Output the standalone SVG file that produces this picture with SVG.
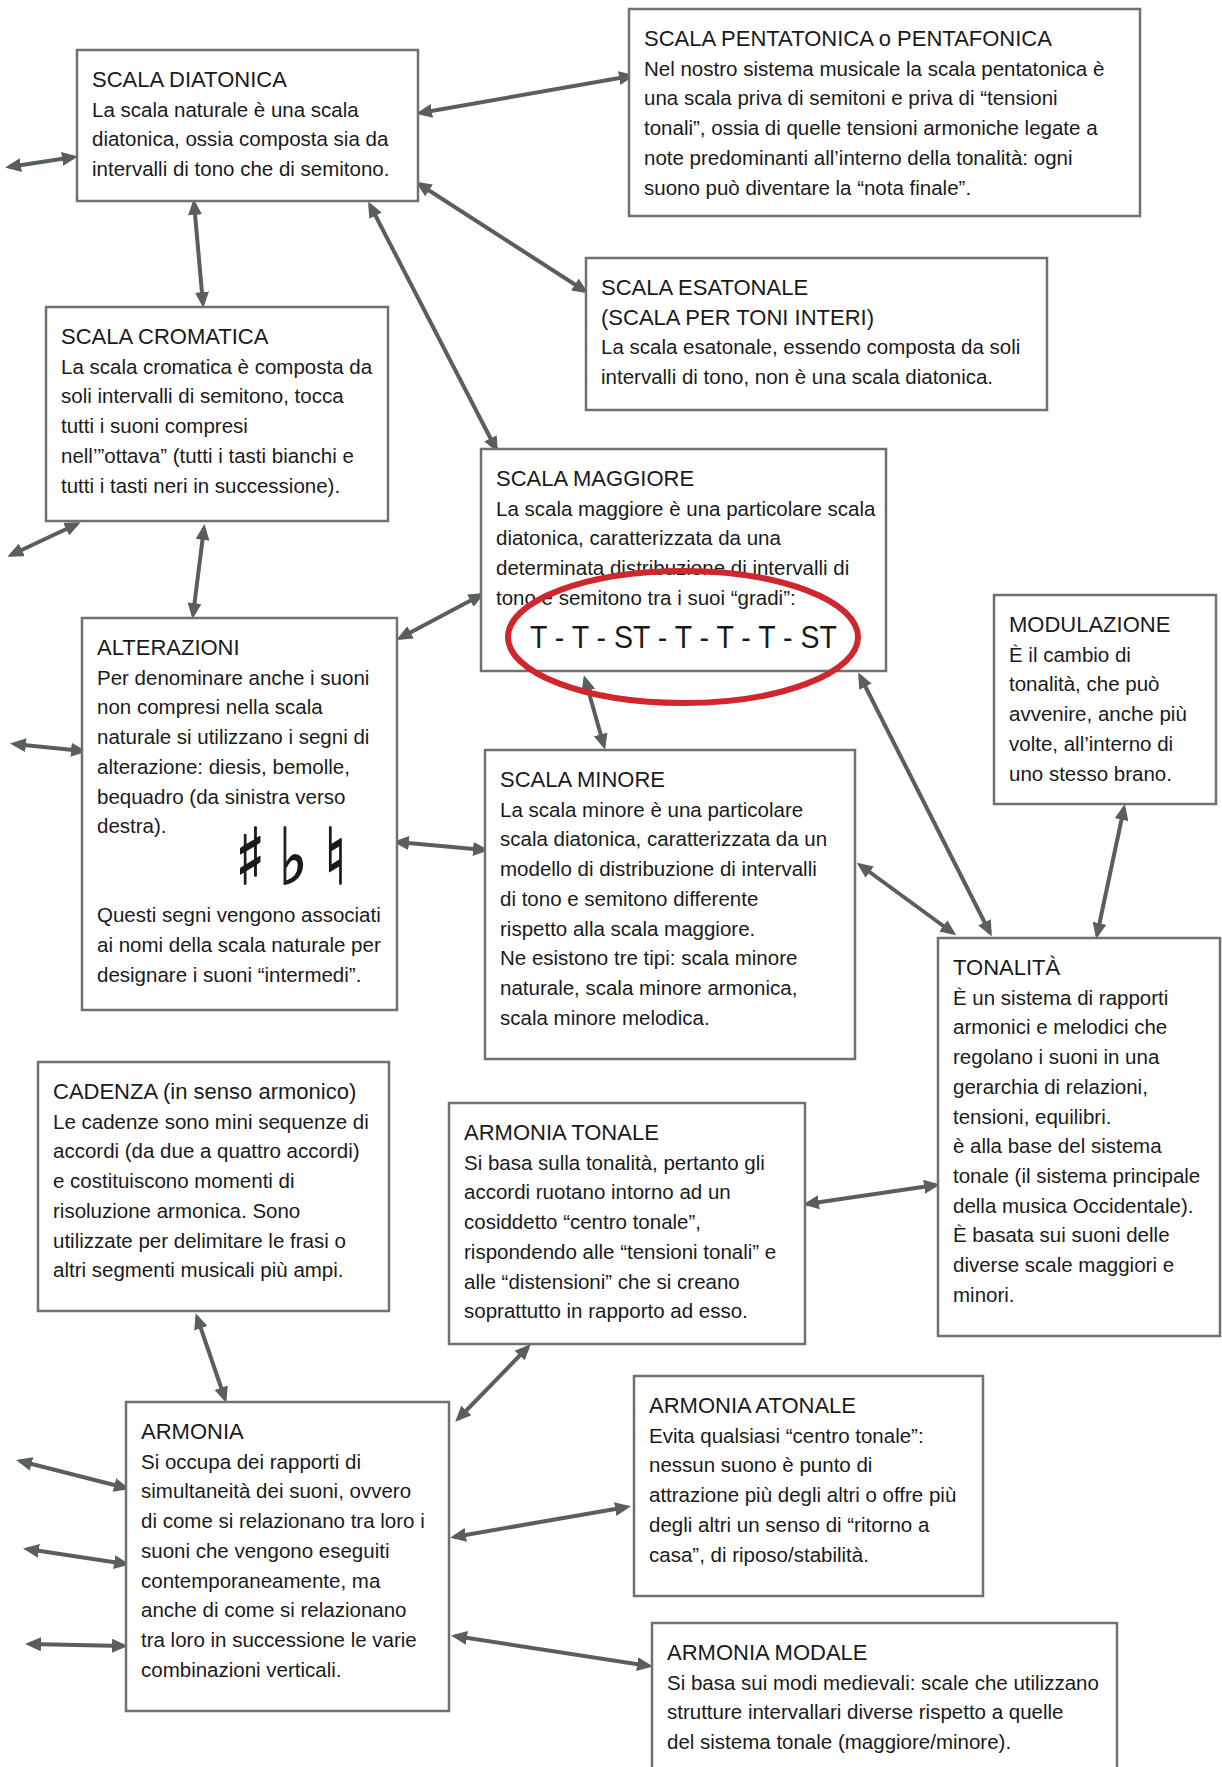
<svg xmlns="http://www.w3.org/2000/svg" width="1222" height="1767" viewBox="0 0 1222 1767">
<style>
.box{fill:#fff;stroke:#6f7070;stroke-width:2.5}
.t{font-family:"Liberation Sans",Arial,sans-serif;fill:#1a1a1a}
.h{font-size:22px}
.b{font-size:20.5px}
.c{stroke:#595e60;stroke-width:4;fill:none;marker-start:url(#ah);marker-end:url(#ah)}
.sym{font-family:"DejaVu Sans",sans-serif;font-size:78px;font-weight:bold;fill:#1a1a1a;stroke:#1a1a1a;stroke-width:1.5;text-anchor:middle}
</style>
<defs>
<marker id="ah" markerUnits="userSpaceOnUse" markerWidth="16" markerHeight="14" viewBox="0 0 16 14" refX="12" refY="7" orient="auto-start-reverse">
<path d="M0,0 L16,7 L0,14 z" fill="#595e60"/>
</marker>
</defs>
<rect width="1222" height="1767" fill="#fff"/>

<g id="connectors">
<path class="c" d="M9,167 L74,157"/>
<path class="c" d="M420,113 L631,76"/>
<path class="c" d="M419,184 L585,291"/>
<path class="c" d="M194,203 L203,304"/>
<path class="c" d="M370,205 L496,449"/>
<path class="c" d="M11,555 L77,524"/>
<path class="c" d="M204,528 L193,615"/>
<path class="c" d="M400,638 L481,595"/>
<path class="c" d="M14,744 L83,751"/>
<path class="c" d="M397,842 L485,850"/>
<path class="c" d="M585,679 L604,746"/>
<path class="c" d="M860,676 L990,933"/>
<path class="c" d="M860,865 L953,933"/>
<path class="c" d="M1124,808 L1097,935"/>
<path class="c" d="M807,1204 L936,1185"/>
<path class="c" d="M197,1317 L225,1399"/>
<path class="c" d="M458,1419 L528,1347"/>
<path class="c" d="M454,1537 L627,1507"/>
<path class="c" d="M455,1636 L649,1666"/>
<path class="c" d="M20,1461 L126,1488"/>
<path class="c" d="M27,1549 L126,1564"/>
<path class="c" d="M29,1644 L124,1646"/>
</g>

<g id="diatonica">
<rect class="box" x="77" y="50" width="341" height="151"/>
<text class="t"><tspan class="h" x="92" y="87">SCALA DIATONICA</tspan><tspan class="b" x="92" y="116.7">La scala naturale è una scala</tspan><tspan class="b" x="92" y="146.4">diatonica, ossia composta sia da</tspan><tspan class="b" x="92" y="176.1">intervalli di tono che di semitono.</tspan></text>
</g>

<g id="pentatonica">
<rect class="box" x="629" y="9" width="511" height="207"/>
<text class="t"><tspan class="h" x="644" y="46">SCALA PENTATONICA o PENTAFONICA</tspan><tspan class="b" x="644" y="75.7">Nel nostro sistema musicale la scala pentatonica è</tspan><tspan class="b" x="644" y="105.4">una scala priva di semitoni e priva di “tensioni</tspan><tspan class="b" x="644" y="135.1">tonali”, ossia di quelle tensioni armoniche legate a</tspan><tspan class="b" x="644" y="164.8">note predominanti all’interno della tonalità: ogni</tspan><tspan class="b" x="644" y="194.5">suono può diventare la “nota finale”.</tspan></text>
</g>

<g id="esatonale">
<rect class="box" x="586" y="258" width="461" height="152"/>
<text class="t"><tspan class="h" x="601" y="295">SCALA ESATONALE</tspan><tspan class="h" x="601" y="324.7">(SCALA PER TONI INTERI)</tspan><tspan class="b" x="601" y="354.4">La scala esatonale, essendo composta da soli</tspan><tspan class="b" x="601" y="384.1">intervalli di tono, non è una scala diatonica.</tspan></text>
</g>

<g id="cromatica">
<rect class="box" x="46" y="307" width="342" height="214"/>
<text class="t"><tspan class="h" x="61" y="344">SCALA CROMATICA</tspan><tspan class="b" x="61" y="373.7">La scala cromatica è composta da</tspan><tspan class="b" x="61" y="403.4">soli intervalli di semitono, tocca</tspan><tspan class="b" x="61" y="433.1">tutti i suoni compresi</tspan><tspan class="b" x="61" y="462.8">nell’”ottava” (tutti i tasti bianchi e</tspan><tspan class="b" x="61" y="492.5">tutti i tasti neri in successione).</tspan></text>
</g>

<g id="maggiore">
<rect class="box" x="481" y="449" width="405" height="222"/>
<text class="t"><tspan class="h" x="496" y="486">SCALA MAGGIORE</tspan><tspan class="b" x="496" y="515.7">La scala maggiore è una particolare scala</tspan><tspan class="b" x="496" y="545.4">diatonica, caratterizzata da una</tspan><tspan class="b" x="496" y="575.1">determinata distribuzione di intervalli di</tspan><tspan class="b" x="496" y="604.8">tono e semitono tra i suoi “gradi”:</tspan></text>
<text class="t" x="530" y="648" font-size="31" textLength="307" lengthAdjust="spacingAndGlyphs">T - T - ST - T - T - T - ST</text>
<ellipse cx="683" cy="637" rx="175" ry="66" fill="none" stroke="#d0262d" stroke-width="6"/>
</g>

<g id="modulazione">
<rect class="box" x="994" y="595" width="222" height="209"/>
<text class="t"><tspan class="h" x="1009" y="632">MODULAZIONE</tspan><tspan class="b" x="1009" y="661.7">È il cambio di</tspan><tspan class="b" x="1009" y="691.4">tonalità, che può</tspan><tspan class="b" x="1009" y="721.1">avvenire, anche più</tspan><tspan class="b" x="1009" y="750.8">volte, all’interno di</tspan><tspan class="b" x="1009" y="780.5">uno stesso brano.</tspan></text>
</g>

<g id="alterazioni">
<rect class="box" x="82" y="618" width="315" height="392"/>
<text class="t"><tspan class="h" x="97" y="655">ALTERAZIONI</tspan><tspan class="b" x="97" y="684.7">Per denominare anche i suoni</tspan><tspan class="b" x="97" y="714.4">non compresi nella scala</tspan><tspan class="b" x="97" y="744.1">naturale si utilizzano i segni di</tspan><tspan class="b" x="97" y="773.8">alterazione: diesis, bemolle,</tspan><tspan class="b" x="97" y="803.5">bequadro (da sinistra verso</tspan><tspan class="b" x="97" y="833.2">destra).</tspan><tspan class="b" x="97" y="922.3">Questi segni vengono associati</tspan><tspan class="b" x="97" y="952">ai nomi della scala naturale per</tspan><tspan class="b" x="97" y="981.7">designare i suoni “intermedi”.</tspan></text>
<text class="sym" transform="translate(250,884) scale(0.78,1)">♯</text>
<text class="sym" transform="translate(293,884) scale(0.78,1)">♭</text>
<text class="sym" transform="translate(335,884) scale(0.78,1)">♮</text>
</g>

<g id="minore">
<rect class="box" x="485" y="750" width="370" height="309"/>
<text class="t"><tspan class="h" x="500" y="787">SCALA MINORE</tspan><tspan class="b" x="500" y="816.7">La scala minore è una particolare</tspan><tspan class="b" x="500" y="846.4">scala diatonica, caratterizzata da un</tspan><tspan class="b" x="500" y="876.1">modello di distribuzione di intervalli</tspan><tspan class="b" x="500" y="905.8">di tono e semitono differente</tspan><tspan class="b" x="500" y="935.5">rispetto alla scala maggiore.</tspan><tspan class="b" x="500" y="965.2">Ne esistono tre tipi: scala minore</tspan><tspan class="b" x="500" y="994.9">naturale, scala minore armonica,</tspan><tspan class="b" x="500" y="1024.6">scala minore melodica.</tspan></text>
</g>

<g id="tonalita">
<rect class="box" x="938" y="938" width="282" height="398"/>
<text class="t"><tspan class="h" x="953" y="975">TONALITÀ</tspan><tspan class="b" x="953" y="1004.7">È un sistema di rapporti</tspan><tspan class="b" x="953" y="1034.4">armonici e melodici che</tspan><tspan class="b" x="953" y="1064.1">regolano i suoni in una</tspan><tspan class="b" x="953" y="1093.8">gerarchia di relazioni,</tspan><tspan class="b" x="953" y="1123.5">tensioni, equilibri.</tspan><tspan class="b" x="953" y="1153.2">è alla base del sistema</tspan><tspan class="b" x="953" y="1182.9">tonale (il sistema principale</tspan><tspan class="b" x="953" y="1212.6">della musica Occidentale).</tspan><tspan class="b" x="953" y="1242.3">È basata sui suoni delle</tspan><tspan class="b" x="953" y="1272">diverse scale maggiori e</tspan><tspan class="b" x="953" y="1301.7">minori.</tspan></text>
</g>

<g id="cadenza">
<rect class="box" x="38" y="1062" width="351" height="249"/>
<text class="t"><tspan class="h" x="53" y="1099">CADENZA (in senso armonico)</tspan><tspan class="b" x="53" y="1128.7">Le cadenze sono mini sequenze di</tspan><tspan class="b" x="53" y="1158.4">accordi (da due a quattro accordi)</tspan><tspan class="b" x="53" y="1188.1">e costituiscono momenti di</tspan><tspan class="b" x="53" y="1217.8">risoluzione armonica. Sono</tspan><tspan class="b" x="53" y="1247.5">utilizzate per delimitare le frasi o</tspan><tspan class="b" x="53" y="1277.2">altri segmenti musicali più ampi.</tspan></text>
</g>

<g id="armonia-tonale">
<rect class="box" x="449" y="1103" width="356" height="241"/>
<text class="t"><tspan class="h" x="464" y="1140">ARMONIA TONALE</tspan><tspan class="b" x="464" y="1169.7">Si basa sulla tonalità, pertanto gli</tspan><tspan class="b" x="464" y="1199.4">accordi ruotano intorno ad un</tspan><tspan class="b" x="464" y="1229.1">cosiddetto “centro tonale”,</tspan><tspan class="b" x="464" y="1258.8">rispondendo alle “tensioni tonali” e</tspan><tspan class="b" x="464" y="1288.5">alle “distensioni” che si creano</tspan><tspan class="b" x="464" y="1318.2">soprattutto in rapporto ad esso.</tspan></text>
</g>

<g id="armonia">
<rect class="box" x="126" y="1402" width="323" height="309"/>
<text class="t"><tspan class="h" x="141" y="1439">ARMONIA</tspan><tspan class="b" x="141" y="1468.7">Si occupa dei rapporti di</tspan><tspan class="b" x="141" y="1498.4">simultaneità dei suoni, ovvero</tspan><tspan class="b" x="141" y="1528.1">di come si relazionano tra loro i</tspan><tspan class="b" x="141" y="1557.8">suoni che vengono eseguiti</tspan><tspan class="b" x="141" y="1587.5">contemporaneamente, ma</tspan><tspan class="b" x="141" y="1617.2">anche di come si relazionano</tspan><tspan class="b" x="141" y="1646.9">tra loro in successione le varie</tspan><tspan class="b" x="141" y="1676.6">combinazioni verticali.</tspan></text>
</g>

<g id="armonia-atonale">
<rect class="box" x="634" y="1376" width="349" height="220"/>
<text class="t"><tspan class="h" x="649" y="1413">ARMONIA ATONALE</tspan><tspan class="b" x="649" y="1442.7">Evita qualsiasi “centro tonale”:</tspan><tspan class="b" x="649" y="1472.4">nessun suono è punto di</tspan><tspan class="b" x="649" y="1502.1">attrazione più degli altri o offre più</tspan><tspan class="b" x="649" y="1531.8">degli altri un senso di “ritorno a</tspan><tspan class="b" x="649" y="1561.5">casa”, di riposo/stabilità.</tspan></text>
</g>

<g id="armonia-modale">
<rect class="box" x="652" y="1623" width="465" height="170"/>
<text class="t"><tspan class="h" x="667" y="1660">ARMONIA MODALE</tspan><tspan class="b" x="667" y="1689.7">Si basa sui modi medievali: scale che utilizzano</tspan><tspan class="b" x="667" y="1719.4">strutture intervallari diverse rispetto a quelle</tspan><tspan class="b" x="667" y="1749.1">del sistema tonale (maggiore/minore).</tspan></text>
</g>
</svg>
